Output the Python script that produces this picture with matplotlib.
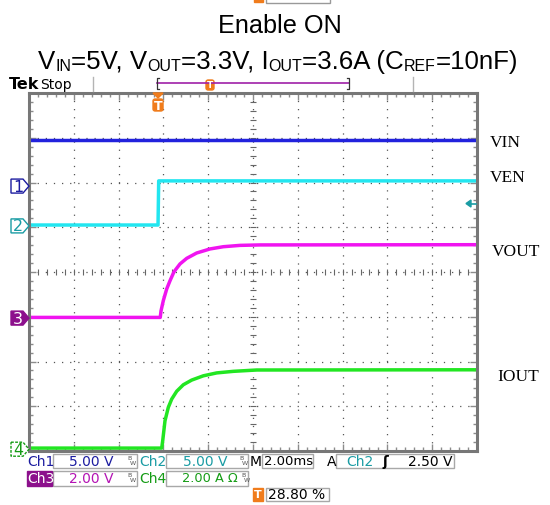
import numpy as np
import matplotlib
matplotlib.use('Agg')
import matplotlib.pyplot as plt
from matplotlib.patches import Rectangle, Polygon, FancyBboxPatch
from matplotlib.lines import Line2D

W, H = 550, 506

# scope settings
t_per_div = 2.0      # ms / div
trig_pos = 0.288     # trigger position (fraction of record)
n_xdiv, n_ydiv = 10, 8
t_start = -trig_pos * n_xdiv * t_per_div
t_end = t_start + n_xdiv * t_per_div

# channel scale (V/div or A/div) and ground marker position (div)
ch_scale = {'VIN': 5.0, 'VEN': 5.0, 'VOUT': 2.0, 'IOUT': 2.0}
ch_pos = {'VIN': 1.92, 'VEN': 1.03, 'VOUT': -1.03, 'IOUT': -3.96}

# waveforms (time in ms)
vin_t = [t_start, t_end]
vin_v = [5.15, 5.15]
ven_t = [t_start, 0.0, 0.03, t_end]
ven_v = [0.1, 0.1, 5.03, 5.03]
vout_t = [t_start, 0.10, 0.133, 0.236, 0.387, 0.535, 0.713, 0.981, 1.28, 1.727,
          2.32, 2.914, 3.66, 4.55, t_end]
vout_v = [0.03, 0.03, 0.32, 0.78, 1.30, 1.67, 2.07, 2.42, 2.67, 2.91,
          3.09, 3.19, 3.25, 3.27, 3.28]
iout_t = [t_start, 0.164, 0.209, 0.311, 0.459, 0.611, 0.834, 1.129, 1.504, 2.022,
          2.62, 3.36, 4.405, t_end]
iout_a = [0.05, 0.05, 0.38, 1.27, 1.87, 2.24, 2.59, 2.88, 3.09, 3.28,
          3.41, 3.48, 3.54, 3.55]

colors = {'VIN': '#2222dd', 'VEN': '#22e6f0', 'VOUT': '#f014f0', 'IOUT': '#22e622'}
c_ch1, c_ch2, c_ch3, c_ch4 = '#1c1ca0', '#1a9ca4', '#8c108c', '#159c15'
orange = '#f07c1c'
title_font = 'Liberation Sans'


def fx(x):
    return x / W


def fy(y):
    return 1 - y / H


fig = plt.figure(figsize=(W / 100, H / 100), dpi=100)
fig.patch.set_facecolor('white')

# --- scope screen
ax = fig.add_axes([fx(29), fy(452), 448 / W, 358 / H])
ax.set_xlim(t_start, t_end)
ax.set_ylim(-n_ydiv / 2, n_ydiv / 2)
xmaj = t_start + t_per_div * np.arange(n_xdiv + 1)
xmin = t_start + t_per_div / 5 * np.arange(n_xdiv * 5 + 1)
ymaj = np.arange(-4, 5)
ymin = np.arange(-20, 21) / 5
ax.set_xticks(xmaj)
ax.set_xticks(xmin, minor=True)
ax.set_yticks(ymaj)
ax.set_yticks(ymin, minor=True)
ax.tick_params(which='both', direction='in', top=True, right=True,
               labelbottom=False, labelleft=False, color='#8c8c8c')
ax.tick_params(which='major', length=5, width=1)
ax.tick_params(which='minor', length=3, width=1)
ax.grid(which='major', color='#555555', linestyle=(0, (1, 5.5)), lw=0.9)
for s in ax.spines.values():
    s.set_color('#777777')
    s.set_linewidth(2.2)
# center crosshair tick marks
tc = t_start + t_per_div * n_xdiv / 2
ax.plot(xmin, np.zeros_like(xmin), '|', ms=5, color='#666666', mew=0.8)
ax.plot(np.full_like(ymin, tc), ymin, '_', ms=5, color='#666666', mew=0.8)

lw = 2.5
ax.plot(vin_t, ch_pos['VIN'] + np.array(vin_v) / ch_scale['VIN'], color=colors['VIN'], lw=lw)
ax.plot(ven_t, ch_pos['VEN'] + np.array(ven_v) / ch_scale['VEN'], color=colors['VEN'], lw=lw)
ax.plot(vout_t, ch_pos['VOUT'] + np.array(vout_v) / ch_scale['VOUT'], color=colors['VOUT'], lw=lw)
ax.plot(iout_t, ch_pos['IOUT'] + np.array(iout_a) / ch_scale['IOUT'], color=colors['IOUT'], lw=lw)

# trace names on the right
for name, x, yb in [('VIN', 490, 147), ('VEN', 490, 182), ('VOUT', 492, 256), ('IOUT', 497, 381)]:
    fig.text(fx(x), fy(yb), name, fontsize=12.5, family='Liberation Serif', va='baseline')


def px(pts):
    return [(fx(a), fy(b)) for a, b in pts]


# channel ground markers on the left
def ch_marker(num, yc, edge, face, tcol, ls='-'):
    pts = [(11, yc - 7), (23, yc - 7), (29, yc), (23, yc + 7), (11, yc + 7)]
    fig.patches.append(Polygon(px(pts), closed=True, transform=fig.transFigure,
                               facecolor=face, edgecolor=edge, lw=1, ls=ls))
    fig.text(fx(18), fy(yc), str(num), color=tcol, fontsize=11.5,
             ha='center', va='center', family='DejaVu Sans')


def div_to_px(d):
    return 273 - d * 44.75


ch_marker(1, div_to_px(ch_pos['VIN']), c_ch1, 'white', c_ch1)
ch_marker(2, div_to_px(ch_pos['VEN']), c_ch2, 'white', c_ch2)
ch_marker(3, div_to_px(ch_pos['VOUT']), c_ch3, c_ch3, 'white')
ch_marker(4, div_to_px(ch_pos['IOUT']), c_ch4, 'white', c_ch4, ls=(0, (2, 1)))

# trigger level arrow (right edge)
trig_level = 2.5
ty = div_to_px(ch_pos['VEN'] + trig_level / ch_scale['VEN'])
fig.patches.append(Polygon(px([(466, ty), (471, ty - 3.5), (471, ty + 3.5)]), closed=True,
                           transform=fig.transFigure, color=c_ch2))
fig.lines.append(Line2D([fx(470), fx(476)], [fy(ty), fy(ty)], transform=fig.transFigure,
                        color=c_ch2, lw=1.2))

# trigger point marker on top
tx = 29 + trig_pos * 448
fig.patches.append(Polygon(px([(tx - 5, 94), (tx + 5, 94), (tx, 99)]), closed=True,
                           transform=fig.transFigure, color=orange))
fig.patches.append(FancyBboxPatch((fx(tx - 5), fy(112)), 10 / W, 12 / H,
                                  boxstyle='round,pad=0,rounding_size=0.004',
                                  transform=fig.transFigure, color=orange))
fig.text(fx(tx), fy(106), 'T', color='white', fontsize=9, fontweight='bold',
         ha='center', va='center')

# top status bar
fig.text(fx(9), fy(89), 'Tek', fontsize=11.5, fontweight='bold', family='DejaVu Sans',
         va='baseline')
fig.text(fx(40), fy(89), 'Stop', fontsize=10, family='DejaVu Sans', va='baseline')
for xl in (93, 413):
    fig.lines.append(Line2D([fx(xl), fx(xl)], [fy(78), fy(92)], transform=fig.transFigure,
                            color='#b4b4b4', lw=1))
fig.lines.append(Line2D([fx(157), fx(349)], [fy(84), fy(84)], transform=fig.transFigure,
                        color='#a020a8', lw=1.2))
for xb, d in ((157, 2), (349, -2)):
    fig.lines.append(Line2D([fx(xb + d), fx(xb), fx(xb), fx(xb + d)],
                            [fy(79), fy(79), fy(90), fy(90)], transform=fig.transFigure,
                            color='#333333', lw=0.9))
fig.patches.append(FancyBboxPatch((fx(206), fy(91)), 8 / W, 10 / H,
                                  boxstyle='round,pad=0,rounding_size=0.004',
                                  transform=fig.transFigure, color=orange))
fig.text(fx(210), fy(86), 'T', color='white', fontsize=6.5, fontweight='bold',
         ha='center', va='center')

# cut-off marker at very top
fig.patches.append(Rectangle((fx(254), fy(3)), 9 / W, 6 / H, transform=fig.transFigure,
                             color=orange))
fig.patches.append(Rectangle((fx(266), fy(4)), 64 / W, 10 / H, transform=fig.transFigure,
                             facecolor='white', edgecolor='#999999', lw=1))

# --- title
fig.text(fx(280), fy(33), 'Enable ON', fontsize=18.2, family=title_font,
         ha='center', va='baseline')

line2 = [('V', 0), ('IN', 1), ('=5V, V', 0), ('OUT', 1), ('=3.3V, I', 0), ('OUT', 1),
         ('=3.6A (C', 0), ('REF', 1), ('=10nF)', 0)]
size2 = 18.6
r = fig.canvas.get_renderer()
pieces = []
xpos = 0
for s, sub in line2:
    t = fig.text(0, 0, s, fontsize=size2 * (0.62 if sub else 1), family=title_font,
                 va='baseline')
    w = t.get_window_extent(r).width
    pieces.append((t, xpos, 2 if sub else 0))
    xpos += w
x0 = 278 - xpos / 2
for t, off, dy in pieces:
    t.set_position((fx(x0 + off), fy(69 + dy)))

# --- bottom readouts
box_ec = '#a8a8a8'


def box(x0, y0, x1, y1):
    fig.patches.append(Rectangle((fx(x0), fy(y1)), (x1 - x0) / W, (y1 - y0) / H,
                                 transform=fig.transFigure, facecolor='white',
                                 edgecolor=box_ec, lw=1))


def label(x, y, s, c, size=10, **kw):
    fig.text(fx(x), fy(y), s, color=c, fontsize=size, family='DejaVu Sans',
             va='center', **kw)


def bw(x, y):
    fig.text(fx(x), fy(y - 3), 'B', fontsize=4.5, color='#555555', va='center')
    fig.text(fx(x + 2.5), fy(y + 2), 'W', fontsize=4.5, color='#555555', va='center')


r1, r2, r3 = 462, 479, 495
box(53, 455, 137, 469)
box(166, 455, 248, 469)
box(262, 455, 313, 469)
box(336, 455, 454, 469)
box(53, 472, 137, 487)
box(166, 472, 248, 487)
box(266, 489, 329, 502)

label(27, r1, 'Ch1', c_ch1)
label(69, r1, '5.00 V', c_ch1)
bw(127, r1)
label(139, r1, 'Ch2', c_ch2)
label(183, r1, '5.00 V', c_ch2)
bw(239, r1)
label(250, r1, 'M', 'black')
label(264, r1, '2.00ms', 'black', size=9.5)
label(327, r1, 'A', 'black')
label(346, r1, 'Ch2', c_ch2)
label(382, r1, 'ʃ', 'black', fontweight='bold')
label(453, r1, '2.50 V', 'black', ha='right')

fig.patches.append(Rectangle((fx(27), fy(487)), 25 / W, 15 / H, transform=fig.transFigure,
                             color=c_ch3))
label(27.5, r2, 'Ch3', 'white')
label(69, r2, '2.00 V', '#b414b4')
bw(127, r2)
label(139, r2, 'Ch4', c_ch4)
label(182, r2, '2.00 A Ω', c_ch4, size=9.3)
bw(241, r2)

fig.patches.append(Rectangle((fx(253), fy(502)), 10 / W, 13 / H, transform=fig.transFigure,
                             color=orange))
fig.text(fx(258), fy(r3), 'T', color='white', fontsize=8, fontweight='bold',
         ha='center', va='center')
label(268, r3, '28.80 %', 'black')

fig.savefig('out.png', dpi=100)
